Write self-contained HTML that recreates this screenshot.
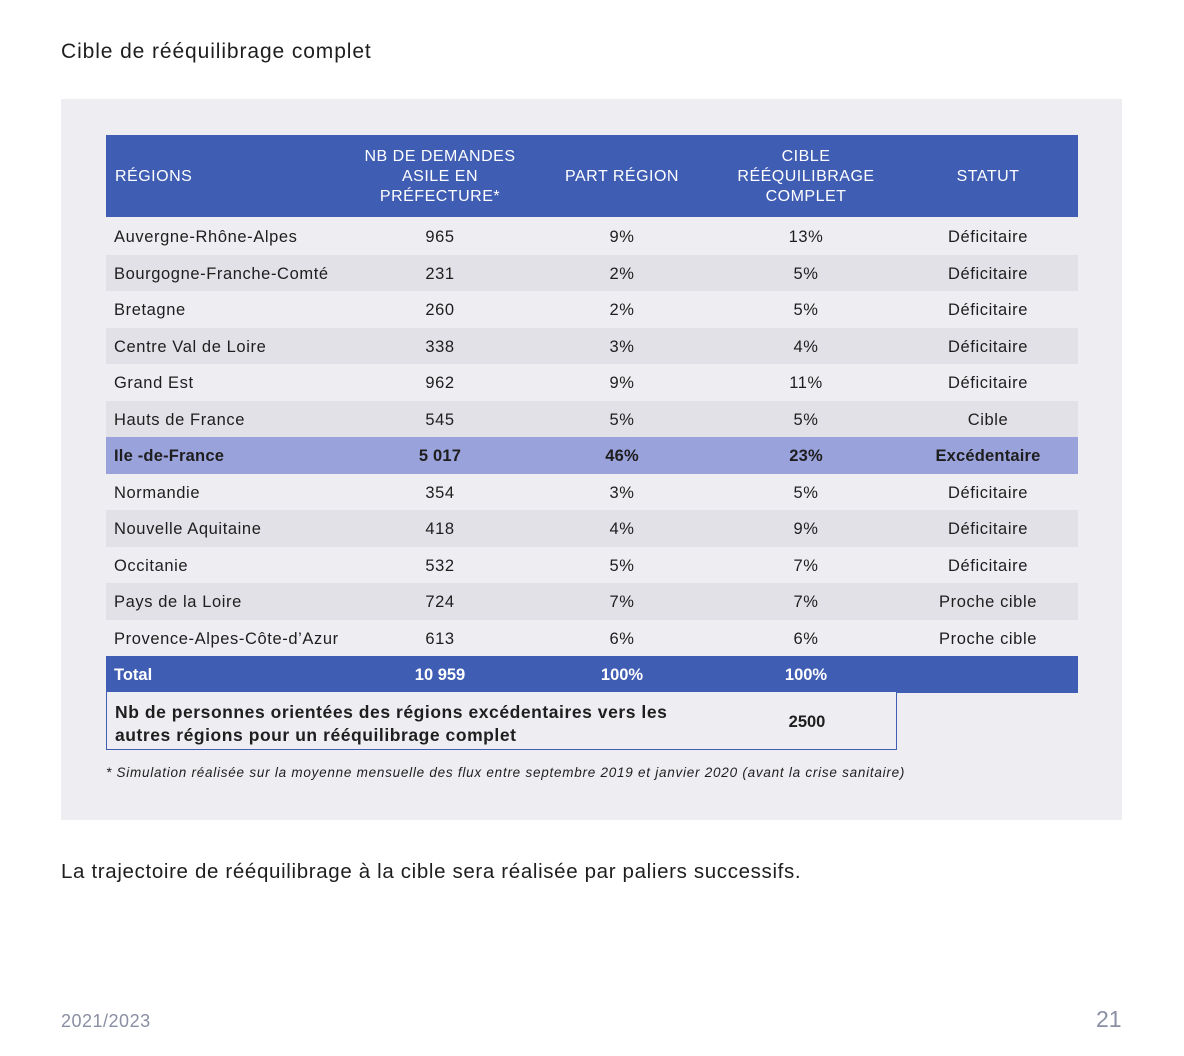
<!DOCTYPE html>
<html><head><meta charset="utf-8"><style>
body{margin:0;width:1184px;height:1056px;background:#fff;font-family:"Liberation Sans",sans-serif;color:#1e1e1e;position:relative;overflow:hidden}
.a{position:absolute}
.box{left:61px;top:99px;width:1061px;height:721px;background:#eeeef2}
.hdr{left:106px;top:135px;width:972px;height:82px;background:#3f5db3;color:#fff;font-size:16px;letter-spacing:0.5px}
.hdr div{position:absolute;text-align:center;line-height:20px}
.row{left:106px;width:972px;height:36.5px;font-size:16.5px;line-height:38px;letter-spacing:0.6px}
.row span{position:absolute;top:0}
.c1{left:8px}.c2{left:284px;width:100px;text-align:center}.c3{left:466px;width:100px;text-align:center}.c4{left:650px;width:100px;text-align:center}.c5{left:812px;width:140px;text-align:center}
.alt{background:#e1e1e7}
.b{font-weight:bold}
</style></head><body>
<div class="a" style="left:61px;top:40px;font-size:21px;letter-spacing:0.9px">Cible de rééquilibrage complet</div>
<div class="a box"></div>
<div class="a hdr">
<div style="left:9px;top:32px">RÉGIONS</div>
<div style="left:234px;width:200px;top:12px">NB DE DEMANDES<br>ASILE EN<br>PRÉFECTURE*</div>
<div style="left:416px;width:200px;top:32px">PART RÉGION</div>
<div style="left:600px;width:200px;top:12px">CIBLE<br>RÉÉQUILIBRAGE<br>COMPLET</div>
<div style="left:782px;width:200px;top:32px">STATUT</div>
</div>
<div class="a row" style="top:218px"><span class="c1">Auvergne-Rhône-Alpes</span><span class="c2">965</span><span class="c3">9%</span><span class="c4">13%</span><span class="c5">Déficitaire</span></div>
<div class="a row alt" style="top:254.5px"><span class="c1">Bourgogne-Franche-Comté</span><span class="c2">231</span><span class="c3">2%</span><span class="c4">5%</span><span class="c5">Déficitaire</span></div>
<div class="a row" style="top:291px"><span class="c1">Bretagne</span><span class="c2">260</span><span class="c3">2%</span><span class="c4">5%</span><span class="c5">Déficitaire</span></div>
<div class="a row alt" style="top:327.5px"><span class="c1">Centre Val de Loire</span><span class="c2">338</span><span class="c3">3%</span><span class="c4">4%</span><span class="c5">Déficitaire</span></div>
<div class="a row" style="top:364px"><span class="c1">Grand Est</span><span class="c2">962</span><span class="c3">9%</span><span class="c4">11%</span><span class="c5">Déficitaire</span></div>
<div class="a row alt" style="top:400.5px"><span class="c1">Hauts de France</span><span class="c2">545</span><span class="c3">5%</span><span class="c4">5%</span><span class="c5">Cible</span></div>
<div class="a row b" style="top:437px;background:#9aa2dc;letter-spacing:0.2px"><span class="c1">Ile -de-France</span><span class="c2">5 017</span><span class="c3">46%</span><span class="c4">23%</span><span class="c5">Excédentaire</span></div>
<div class="a row" style="top:473.5px"><span class="c1">Normandie</span><span class="c2">354</span><span class="c3">3%</span><span class="c4">5%</span><span class="c5">Déficitaire</span></div>
<div class="a row alt" style="top:510px"><span class="c1">Nouvelle Aquitaine</span><span class="c2">418</span><span class="c3">4%</span><span class="c4">9%</span><span class="c5">Déficitaire</span></div>
<div class="a row" style="top:546.5px"><span class="c1">Occitanie</span><span class="c2">532</span><span class="c3">5%</span><span class="c4">7%</span><span class="c5">Déficitaire</span></div>
<div class="a row alt" style="top:583px"><span class="c1">Pays de la Loire</span><span class="c2">724</span><span class="c3">7%</span><span class="c4">7%</span><span class="c5">Proche cible</span></div>
<div class="a row" style="top:619.5px"><span class="c1">Provence-Alpes-Côte-d’Azur</span><span class="c2">613</span><span class="c3">6%</span><span class="c4">6%</span><span class="c5">Proche cible</span></div>
<div class="a row b" style="top:656px;background:#3f5db3;color:#fff;letter-spacing:0"><span class="c1">Total</span><span class="c2">10 959</span><span class="c3">100%</span><span class="c4">100%</span></div>
<div class="a" style="left:106px;top:692px;width:789px;height:57px;border:1px solid #3f5db3;border-top:none;background:#eeeef2;font-weight:bold;font-size:17.5px">
<div class="a" style="left:8px;top:9px;line-height:23px;letter-spacing:0.55px">Nb de personnes orientées des régions excédentaires vers les<br>autres régions pour un rééquilibrage complet</div>
<div class="a" style="left:650px;width:100px;text-align:center;top:21px;font-size:16.5px">2500</div>
</div>
<div class="a" style="left:106px;top:765px;font-size:13.5px;font-style:italic;letter-spacing:0.75px">* Simulation réalisée sur la moyenne mensuelle des flux entre septembre 2019 et janvier 2020 (avant la crise sanitaire)</div>
<div class="a" style="left:61px;top:860px;font-size:20.5px;letter-spacing:0.65px">La trajectoire de rééquilibrage à la cible sera réalisée par paliers successifs.</div>
<div class="a" style="left:61px;top:1011px;font-size:18px;color:#8a8fa3;letter-spacing:0.5px">2021/2023</div>
<div class="a" style="left:1096px;top:1006px;font-size:23px;color:#8a8fa3">21</div>
</body></html>
